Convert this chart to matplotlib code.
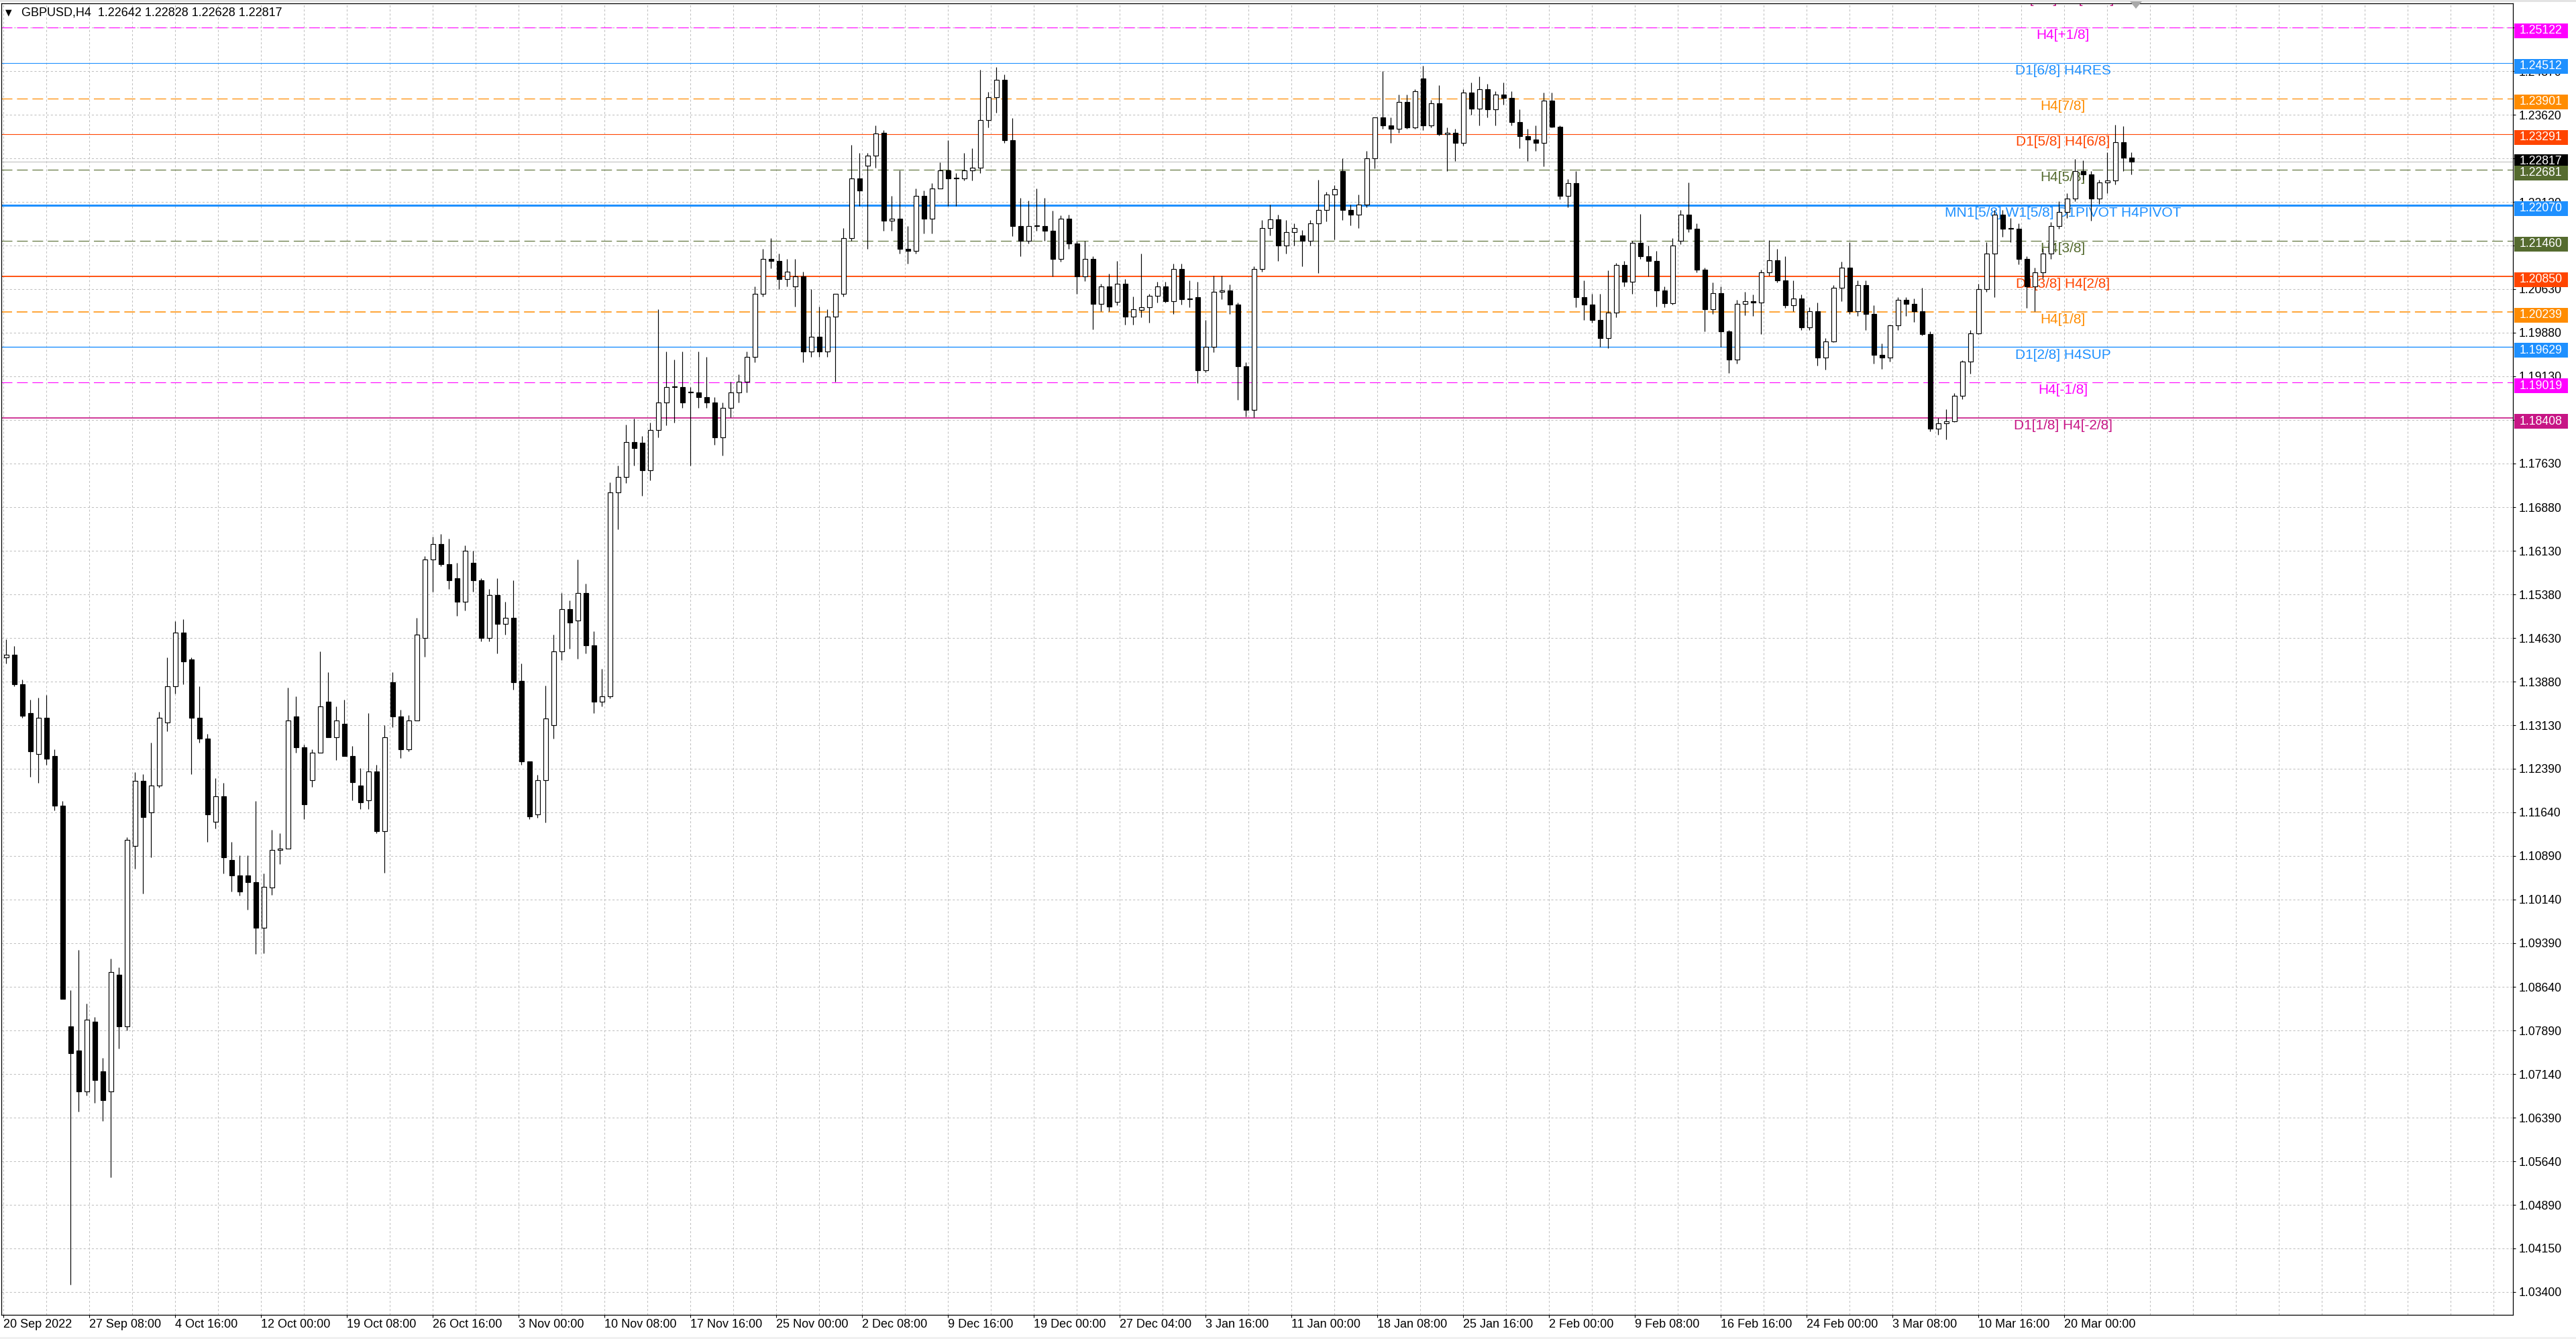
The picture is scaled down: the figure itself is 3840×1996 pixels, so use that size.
import numpy as np
import matplotlib
matplotlib.use('Agg')
import matplotlib.pyplot as plt
from matplotlib.patches import Rectangle, Polygon
import matplotlib.transforms as mtransforms

plt.rcParams['lines.scale_dashes'] = False

# GBPUSD candles, grouped as 12h candles (3 H4 bars each)
opens = [
    1.1430, 1.1434, 1.1384, 1.1334, 1.1264, 1.1326, 1.1260, 1.1175, 1.0796, 1.0754,
    1.0684, 1.0804, 1.0719, 1.0684, 1.0885, 1.0796, 1.1106, 1.1218, 1.1164, 1.1210,
    1.1318, 1.1380, 1.1473, 1.1426, 1.1326, 1.1291, 1.1148, 1.1191, 1.1082, 1.1055,
    1.1055, 1.1044, 1.0966, 1.1035, 1.1099, 1.1102, 1.1328, 1.1275, 1.1219, 1.1266,
    1.1354, 1.1293, 1.1316, 1.1260, 1.1210, 1.1184, 1.1234, 1.1131, 1.1387, 1.1328,
    1.1272, 1.1322, 1.1463, 1.1598, 1.1625, 1.1590, 1.1566, 1.1525, 1.1592, 1.1563,
    1.1463, 1.1537, 1.1487, 1.1498, 1.1390, 1.1251, 1.1160, 1.1219, 1.1313, 1.1440,
    1.1513, 1.1493, 1.1540, 1.1451, 1.1354, 1.1363, 1.1713, 1.1740, 1.1800, 1.1799,
    1.1751, 1.1820, 1.1868, 1.1894, 1.1894, 1.1885, 1.1885, 1.1877, 1.1868, 1.1808,
    1.1859, 1.1885, 1.1903, 1.1946, 1.2054, 1.2115, 1.2111, 1.2080, 1.2067, 1.2085,
    1.1955, 1.1981, 1.1955, 1.2015, 1.2054, 1.2150, 1.2253, 1.2275, 1.2292, 1.2331,
    1.2180, 1.2184, 1.2132, 1.2128, 1.2223, 1.2184, 1.2236, 1.2266, 1.2253, 1.2253,
    1.2266, 1.2271, 1.2353, 1.2392, 1.2422, 1.2318, 1.2171, 1.2145, 1.2171, 1.2171,
    1.2163, 1.2115, 1.2184, 1.2141, 1.2085, 1.2115, 1.2037, 1.2067, 1.2041, 1.2072,
    1.2015, 1.2027, 1.2031, 1.2051, 1.2067, 1.2042, 1.2097, 1.2045, 1.2049, 1.1923,
    1.1963, 1.2058, 1.2060, 1.2036, 1.1930, 1.1855, 1.2097, 1.2168, 1.2183, 1.2137,
    1.2161, 1.2155, 1.2146, 1.2175, 1.2199, 1.2225, 1.2265, 1.2199, 1.2190, 1.2208,
    1.2287, 1.2358, 1.2344, 1.2338, 1.2384, 1.2340, 1.2424, 1.2344, 1.2382, 1.2329,
    1.2331, 1.2314, 1.2400, 1.2373, 1.2406, 1.2371, 1.2397, 1.2391, 1.2349, 1.2325,
    1.2320, 1.2314, 1.2386, 1.2342, 1.2223, 1.2245, 1.2049, 1.2036, 1.2009, 1.1978,
    1.2022, 1.2104, 1.2075, 1.2142, 1.2119, 1.2111, 1.2060, 1.2038, 1.2145, 1.2190,
    1.2166, 1.2096, 1.2028, 1.2056, 1.1990, 1.1942, 1.2037, 1.2042, 1.2039, 1.2091,
    1.2112, 1.2077, 1.2035, 1.2046, 1.1997, 1.2025, 1.1945, 1.1973, 1.2065, 1.2100,
    1.2025, 1.2070, 1.2020, 1.1950, 1.1945, 1.2000, 1.2044, 1.2037, 1.2025, 1.1985,
    1.1823, 1.1832, 1.1836, 1.1879, 1.1938, 1.1987, 1.2063, 1.2124, 1.2190, 1.2166,
    1.2166, 1.2114, 1.2067, 1.2091, 1.2124, 1.2171, 1.2195, 1.2218, 1.2265, 1.2260,
    1.2218, 1.2246, 1.2249, 1.2315, 1.2289,
]
highs = [
    1.1461, 1.1450, 1.1392, 1.1357, 1.1361, 1.1365, 1.1272, 1.1183, 1.0858, 1.0928,
    1.0835, 1.0812, 1.0742, 1.0912, 1.0897, 1.1121, 1.1233, 1.1229, 1.1283, 1.1337,
    1.1430, 1.1492, 1.1496, 1.1430, 1.1380, 1.1299, 1.1222, 1.1214, 1.1113, 1.1090,
    1.1090, 1.1183, 1.1059, 1.1134, 1.1128, 1.1378, 1.1363, 1.1280, 1.1272, 1.1440,
    1.1404, 1.1346, 1.1357, 1.1278, 1.1240, 1.1334, 1.1245, 1.1313, 1.1404, 1.1340,
    1.1331, 1.1498, 1.1604, 1.1637, 1.1642, 1.1634, 1.1592, 1.1622, 1.1613, 1.1566,
    1.1548, 1.1566, 1.1525, 1.1563, 1.1419, 1.1251, 1.1228, 1.1381, 1.1469, 1.1540,
    1.1528, 1.1598, 1.1557, 1.1475, 1.1410, 1.1731, 1.1760, 1.1830, 1.1840, 1.1810,
    1.1833, 1.2028, 1.1955, 1.1942, 1.1955, 1.1894, 1.1955, 1.1946, 1.1877, 1.1868,
    1.1903, 1.1916, 1.1955, 1.2067, 1.2132, 1.2150, 1.2124, 1.2115, 1.2115, 1.2093,
    1.2063, 1.2033, 1.2028, 1.2054, 1.2167, 1.2310, 1.2297, 1.2297, 1.2344, 1.2336,
    1.2223, 1.2266, 1.2171, 1.2236, 1.2232, 1.2245, 1.2280, 1.2318, 1.2262, 1.2297,
    1.2305, 1.2440, 1.2401, 1.2444, 1.2431, 1.2357, 1.2219, 1.2215, 1.2236, 1.2219,
    1.2197, 1.2189, 1.2190, 1.2145, 1.2145, 1.2119, 1.2072, 1.2089, 1.2111, 1.2080,
    1.2050, 1.2124, 1.2055, 1.2075, 1.2075, 1.2106, 1.2106, 1.2077, 1.2075, 1.2009,
    1.2086, 1.2086, 1.2071, 1.2040, 1.1937, 1.2102, 1.2181, 1.2208, 1.2190, 1.2181,
    1.2175, 1.2164, 1.2181, 1.2250, 1.2230, 1.2241, 1.2287, 1.2208, 1.2225, 1.2300,
    1.2358, 1.2437, 1.2358, 1.2397, 1.2397, 1.2406, 1.2446, 1.2388, 1.2413, 1.2340,
    1.2338, 1.2406, 1.2417, 1.2428, 1.2415, 1.2402, 1.2417, 1.2402, 1.2371, 1.2338,
    1.2344, 1.2400, 1.2400, 1.2344, 1.2252, 1.2265, 1.2077, 1.2055, 1.2055, 1.2095,
    1.2108, 1.2111, 1.2146, 1.2192, 1.2137, 1.2128, 1.2067, 1.2150, 1.2199, 1.2246,
    1.2176, 1.2100, 1.2074, 1.2067, 1.1992, 1.2044, 1.2058, 1.2053, 1.2096, 1.2147,
    1.2132, 1.2119, 1.2077, 1.2053, 1.2032, 1.2039, 1.1978, 1.2070, 1.2110, 1.2143,
    1.2077, 1.2077, 1.2035, 1.1969, 1.2002, 1.2049, 1.2049, 1.2046, 1.2065, 1.1990,
    1.1841, 1.1856, 1.1884, 1.1940, 1.1992, 1.2072, 1.2143, 1.2199, 1.2199, 1.2185,
    1.2176, 1.2119, 1.2100, 1.2133, 1.2178, 1.2213, 1.2227, 1.2286, 1.2284, 1.2265,
    1.2251, 1.2298, 1.2345, 1.2343, 1.2298,
]
lows = [
    1.1419, 1.1380, 1.1326, 1.1225, 1.1214, 1.1245, 1.1167, 1.0843, 1.0352, 1.0650,
    1.0677, 1.0665, 1.0634, 1.0537, 1.0758, 1.0789, 1.1067, 1.1024, 1.1086, 1.1206,
    1.1303, 1.1368, 1.1384, 1.1229, 1.1283, 1.1113, 1.1136, 1.1059, 1.1028, 1.1021,
    1.0997, 1.0920, 1.0922, 1.1022, 1.1075, 1.1102, 1.1266, 1.1152, 1.1207, 1.1266,
    1.1293, 1.1254, 1.1260, 1.1184, 1.1169, 1.1169, 1.1128, 1.1060, 1.1310, 1.1257,
    1.1269, 1.1322, 1.1431, 1.1543, 1.1587, 1.1548, 1.1501, 1.1510, 1.1543, 1.1457,
    1.1457, 1.1437, 1.1469, 1.1375, 1.1245, 1.1152, 1.1154, 1.1146, 1.1290, 1.1425,
    1.1445, 1.1428, 1.1437, 1.1334, 1.1346, 1.1360, 1.1650, 1.1730, 1.1760, 1.1708,
    1.1734, 1.1808, 1.1829, 1.1833, 1.1859, 1.1760, 1.1859, 1.1859, 1.1795, 1.1777,
    1.1842, 1.1868, 1.1885, 1.1937, 1.2050, 1.2098, 1.2063, 1.2067, 1.2033, 1.1937,
    1.1946, 1.1946, 1.1946, 1.1903, 1.2050, 1.2145, 1.2206, 1.2132, 1.2271, 1.2163,
    1.2163, 1.2124, 1.2106, 1.2124, 1.2158, 1.2158, 1.2236, 1.2206, 1.2206, 1.2249,
    1.2249, 1.2262, 1.2340, 1.2366, 1.2314, 1.2154, 1.2119, 1.2141, 1.2163, 1.2145,
    1.2085, 1.2110, 1.2132, 1.2054, 1.2076, 1.1994, 1.2024, 1.2024, 1.2035, 1.2002,
    1.2002, 1.2014, 1.2005, 1.2040, 1.2040, 1.2020, 1.2036, 1.2031, 1.1901, 1.1920,
    1.1954, 1.2045, 1.2020, 1.1873, 1.1844, 1.1842, 1.2093, 1.2155, 1.2111, 1.2124,
    1.2137, 1.2102, 1.2137, 1.2090, 1.2179, 1.2148, 1.2181, 1.2172, 1.2168, 1.2203,
    1.2270, 1.2338, 1.2314, 1.2331, 1.2338, 1.2338, 1.2336, 1.2340, 1.2327, 1.2265,
    1.2283, 1.2309, 1.2362, 1.2344, 1.2358, 1.2344, 1.2380, 1.2344, 1.2305, 1.2283,
    1.2300, 1.2274, 1.2340, 1.2217, 1.2203, 1.2031, 1.2009, 1.2005, 1.1963, 1.1961,
    1.2014, 1.2067, 1.2055, 1.2115, 1.2084, 1.2033, 1.2031, 1.2036, 1.2140, 1.2161,
    1.2091, 1.1990, 1.2020, 1.1964, 1.1919, 1.1935, 1.2018, 1.2016, 1.1985, 1.2086,
    1.2074, 1.2030, 1.2025, 1.1992, 1.1992, 1.1931, 1.1924, 1.1971, 1.2042, 1.2020,
    1.2016, 1.1992, 1.1935, 1.1926, 1.1938, 1.1992, 1.2016, 1.2006, 1.1983, 1.1818,
    1.1813, 1.1804, 1.1834, 1.1874, 1.1917, 1.1985, 1.2058, 1.2049, 1.2152, 1.2143,
    1.2105, 1.2030, 1.2025, 1.2081, 1.2114, 1.2166, 1.2185, 1.2213, 1.2251, 1.2180,
    1.2209, 1.2227, 1.2242, 1.2265, 1.2260,
]
closes = [
    1.1434, 1.1384, 1.1330, 1.1268, 1.1326, 1.1256, 1.1175, 1.0843, 1.0750, 1.0684,
    1.0808, 1.0704, 1.0669, 1.0889, 1.0796, 1.1117, 1.1218, 1.1156, 1.1210, 1.1326,
    1.1380, 1.1473, 1.1423, 1.1326, 1.1291, 1.1160, 1.1191, 1.1086, 1.1055, 1.1028,
    1.1044, 1.0966, 1.1036, 1.1099, 1.1102, 1.1322, 1.1275, 1.1178, 1.1266, 1.1346,
    1.1293, 1.1322, 1.1260, 1.1216, 1.1181, 1.1234, 1.1131, 1.1293, 1.1328, 1.1272,
    1.1322, 1.1469, 1.1598, 1.1625, 1.1590, 1.1563, 1.1525, 1.1613, 1.1563, 1.1463,
    1.1537, 1.1487, 1.1498, 1.1387, 1.1251, 1.1157, 1.1219, 1.1325, 1.1440, 1.1513,
    1.1490, 1.1540, 1.1451, 1.1354, 1.1363, 1.1713, 1.1740, 1.1800, 1.1790, 1.1751,
    1.1820, 1.1868, 1.1894, 1.1894, 1.1868, 1.1885, 1.1877, 1.1868, 1.1808, 1.1859,
    1.1885, 1.1903, 1.1946, 1.2054, 1.2115, 1.2111, 1.2080, 1.2093, 1.2085, 1.1955,
    1.1981, 1.1955, 1.2015, 1.2054, 1.2150, 1.2253, 1.2232, 1.2292, 1.2330, 1.2180,
    1.2184, 1.2132, 1.2128, 1.2223, 1.2184, 1.2236, 1.2266, 1.2253, 1.2253, 1.2266,
    1.2271, 1.2353, 1.2392, 1.2422, 1.2318, 1.2171, 1.2145, 1.2171, 1.2171, 1.2163,
    1.2115, 1.2184, 1.2141, 1.2085, 1.2115, 1.2037, 1.2067, 1.2033, 1.2072, 1.2015,
    1.2028, 1.2031, 1.2051, 1.2067, 1.2042, 1.2097, 1.2045, 1.2045, 1.1923, 1.1963,
    1.2058, 1.2060, 1.2036, 1.1930, 1.1855, 1.2097, 1.2168, 1.2183, 1.2137, 1.2161,
    1.2168, 1.2146, 1.2175, 1.2199, 1.2225, 1.2234, 1.2199, 1.2190, 1.2208, 1.2287,
    1.2358, 1.2344, 1.2338, 1.2384, 1.2340, 1.2402, 1.2344, 1.2382, 1.2329, 1.2331,
    1.2314, 1.2400, 1.2373, 1.2406, 1.2371, 1.2397, 1.2391, 1.2349, 1.2325, 1.2320,
    1.2314, 1.2386, 1.2342, 1.2223, 1.2245, 1.2049, 1.2036, 1.2009, 1.1978, 1.2022,
    1.2104, 1.2075, 1.2142, 1.2119, 1.2111, 1.2060, 1.2038, 1.2137, 1.2190, 1.2166,
    1.2096, 1.2028, 1.2056, 1.1990, 1.1942, 1.2037, 1.2042, 1.2039, 1.2091, 1.2112,
    1.2077, 1.2035, 1.2046, 1.1997, 1.2025, 1.1945, 1.1973, 1.2065, 1.2100, 1.2025,
    1.2070, 1.2020, 1.1950, 1.1945, 1.2000, 1.2044, 1.2037, 1.2025, 1.1985, 1.1823,
    1.1832, 1.1836, 1.1879, 1.1938, 1.1987, 1.2063, 1.2124, 1.2190, 1.2166, 1.2166,
    1.2114, 1.2067, 1.2091, 1.2124, 1.2171, 1.2195, 1.2218, 1.2265, 1.2260, 1.2218,
    1.2246, 1.2249, 1.2315, 1.2289, 1.22817,
]

# time axis labels, one every 32 H4 bars
date_labels = ['20 Sep 2022', '27 Sep 08:00', '4 Oct 16:00', '12 Oct 00:00', '19 Oct 08:00',
               '26 Oct 16:00', '3 Nov 00:00', '10 Nov 08:00', '17 Nov 16:00', '25 Nov 00:00',
               '2 Dec 08:00', '9 Dec 16:00', '19 Dec 00:00', '27 Dec 04:00', '3 Jan 16:00',
               '11 Jan 00:00', '18 Jan 08:00', '25 Jan 16:00', '2 Feb 00:00', '9 Feb 08:00',
               '16 Feb 16:00', '24 Feb 00:00', '3 Mar 08:00', '10 Mar 16:00', '20 Mar 00:00']

# price scale
price_ticks = [1.03400, 1.04150, 1.04890, 1.05640, 1.06390, 1.07140, 1.07890, 1.08640,
               1.09390, 1.10140, 1.10890, 1.11640, 1.12390, 1.13130, 1.13880, 1.14630,
               1.15380, 1.16130, 1.16880, 1.17630, 1.18380, 1.19130, 1.19880, 1.20630,
               1.21380, 1.22120, 1.22870, 1.23620, 1.24370, 1.25120]

# Murrey / pivot levels drawn by the indicator
level_values = [1.25733, 1.25122, 1.24512, 1.23901, 1.23291, 1.22681, 1.22070,
                1.21460, 1.20850, 1.20239, 1.19629, 1.19019, 1.18408]
level_names = ['D1[7/8] H4[+2/8]', 'H4[+1/8]', 'D1[6/8] H4RES', 'H4[7/8]', 'D1[5/8] H4[6/8]',
               'H4[5/8]', 'MN1[5/8] W1[5/8] D1PIVOT H4PIVOT', 'H4[3/8]', 'D1[3/8] H4[2/8]',
               'H4[1/8]', 'D1[2/8] H4SUP', 'H4[-1/8]', 'D1[1/8] H4[-2/8]']
level_colors = ['#C71585', '#FF00FF', '#1E90FF', '#FF8C00', '#FF4500', '#556B2F', '#1E90FF',
                '#556B2F', '#FF4500', '#FF8C00', '#1E90FF', '#FF00FF', '#C71585']
level_dashed = [False, True, False, True, False, True, False, True, False, True, False, True, False]
level_widths = [1.2, 0.8, 0.8, 0.9, 0.8, 0.8, 2.2, 0.8, 1.3, 1.1, 1.0, 0.8, 1.2]

bid = 1.22817
title = 'GBPUSD,H4  1.22642 1.22828 1.22628 1.22817'

W, H = 3840, 1996
fig = plt.figure(figsize=(W / 100, H / 100), dpi=100, facecolor='white')
ax = fig.add_axes([2 / W, 36 / H, 3744 / W, 1955.5 / H])
ax.set_facecolor('white')

ppx = 8677.0  # pixels per price unit
ax.set_xlim(-0.75, 935.25)
ax.set_ylim(1.03005, 1.25541)

# grid
grid_style = dict(color='#C0C0C0', lw=0.75, ls=(0, (2.2, 2.2)), zorder=0.5)
for p in price_ticks:
    ax.axhline(p, **grid_style)
for b in range(0, 936, 16):
    ax.axvline(b, **grid_style)

# levels and their labels
for val, name, col, dsh, lw in zip(level_values, level_names, level_colors, level_dashed, level_widths):
    ls = (0, (11.5, 5)) if dsh else '-'
    ax.axhline(val, color=col, lw=lw, ls=ls, zorder=1)
    ax.annotate(name, xy=(767.5, val), xytext=(0, -8.3), textcoords='offset points',
                ha='center', va='center', color=col, fontsize=15, family='Liberation Sans',
                zorder=2, annotation_clip=False, clip_on=True)

ax.axhline(bid, color='#C0C0C0', lw=0.8, zorder=1.5)

# candles
o = np.array(opens)
h = np.array(highs)
l = np.array(lows)
c = np.array(closes)
x = np.arange(len(o)) * 3 + 1
up = c >= o
ax.vlines(x, l, h, color='black', lw=0.85, zorder=4)
min_body = 1.0 / ppx
ax.bar(x[up], np.maximum(c[up] - o[up], min_body), bottom=o[up], width=1.75,
       facecolor='white', edgecolor='black', linewidth=0.85, zorder=5)
ax.bar(x[~up], np.maximum(o[~up] - c[~up], min_body), bottom=c[~up], width=1.75,
       facecolor='black', edgecolor='black', linewidth=0.85, zorder=5)

# axes cosmetics
for s in ax.spines.values():
    s.set_color('black')
    s.set_linewidth(0.9)
ax.yaxis.tick_right()
ax.set_yticks(price_ticks)
ax.set_yticklabels([f'{p:.5f}' for p in price_ticks], family='Liberation Sans')
ax.tick_params(axis='y', labelsize=12.7, length=3, pad=3.5, direction='out', colors='black')
ax.set_xticks(np.arange(len(date_labels)) * 32)
ax.set_xticklabels(date_labels, ha='left', family='Liberation Sans')
ax.tick_params(axis='x', labelsize=13, length=3, pad=1.5, direction='out', colors='black')

# price boxes on the right scale
ytr = ax.get_yaxis_transform()
box_h = 22 / ppx
shift = 5 / ppx
ax.add_patch(Rectangle((1.000534, bid - box_h / 2), 80 / 3744, box_h, transform=ytr,
                       facecolor='black', edgecolor='none', clip_on=False, zorder=9))
ax.text(1.0027, bid, f'{bid:.5f}', transform=ytr, color='white', fontsize=12.7,
        family='Liberation Sans', va='center', ha='left', clip_on=False, zorder=9.5)
for val, col in zip(level_values, level_colors):
    if val > 1.2530:
        continue
    yc = val - shift
    ax.add_patch(Rectangle((1.000534, yc - box_h / 2), 80 / 3744, box_h, transform=ytr,
                           facecolor=col, edgecolor='none', clip_on=False, zorder=10))
    ax.text(1.0027, yc, f'{val:.5f}', transform=ytr, color='white', fontsize=12.7,
            family='Liberation Sans', va='center', ha='left', clip_on=False, zorder=11)

# header text
fig.text(8 / W, 1 - 19 / H, '\u25BC', fontsize=9, family='DejaVu Sans', va='center', ha='left')
fig.text(32 / W, 1 - 19 / H, title, fontsize=13, family='Liberation Sans', va='center', ha='left')

# chart shift marker and window strips
fig.add_artist(Polygon([(3175 / W, 1 - 2 / H), (3193 / W, 1 - 2 / H), (3184 / W, 1 - 13 / H)],
                       closed=True, transform=fig.transFigure, facecolor='#A9A9A9',
                       edgecolor='none', zorder=20))
fig.add_artist(Rectangle((0, 1 - 3 / H), 1, 3 / H, transform=fig.transFigure,
                         facecolor='#E3E3E3', edgecolor='none', zorder=0))
fig.add_artist(Rectangle((0, 0), 1, 3 / H, transform=fig.transFigure,
                         facecolor='#F0F0F0', edgecolor='none', zorder=0))

fig.savefig('out.png', dpi=100, facecolor='white')
